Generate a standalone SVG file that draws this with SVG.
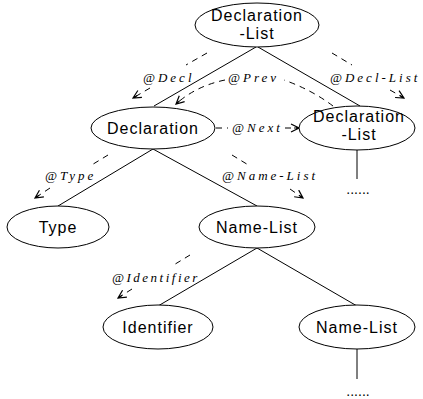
<svg xmlns="http://www.w3.org/2000/svg" width="423" height="399" viewBox="0 0 423 399">
<style>
.node ellipse{fill:#fff;stroke:#000;stroke-width:1}
.node text{font-family:"Liberation Sans",Arial,sans-serif;font-size:16px;letter-spacing:1px;text-anchor:middle;fill:#000}
.tree line{stroke:#000;stroke-width:1}
.ref{fill:none;stroke:#000;stroke-width:1;stroke-dasharray:6,5}
.lbl{font-family:"Liberation Serif","Times New Roman",serif;font-style:italic;font-size:13px;letter-spacing:3px;fill:#000}
.dots{font-family:"Liberation Sans",Arial,sans-serif;font-size:14px;text-anchor:middle}
</style>
<defs>
<marker id="ah" viewBox="0 0 10 10" refX="9" refY="5" markerWidth="10" markerHeight="10" markerUnits="userSpaceOnUse" orient="auto">
<path d="M1,1 L9,5 L1,9 M9,5 L4,5" fill="none" stroke="#000" stroke-width="1.2"/>
</marker>
</defs>
<g id="connectors">
<g class="tree">
<line x1="256" y1="47" x2="154" y2="106"/>
<line x1="258" y1="47" x2="360" y2="106"/>
<line x1="357" y1="150" x2="357" y2="179"/>
<line x1="153" y1="149" x2="58" y2="206"/>
<line x1="153" y1="149" x2="257" y2="206"/>
<line x1="257" y1="248" x2="158" y2="306"/>
<line x1="257" y1="248" x2="357" y2="306"/>
<line x1="357" y1="349" x2="357" y2="379"/>
</g>
<path class="ref" d="M207,53 L186,65"/>
<path class="ref" d="M150,88 L133,98" marker-end="url(#ah)"/>
<path class="ref" d="M333,106 Q312,90 284,80"/>
<path class="ref" d="M225,80 Q196,86 176,104" marker-end="url(#ah)"/>
<path class="ref" d="M332,53 L352,65"/>
<path class="ref" d="M390,90 L404,98" marker-end="url(#ah)"/>
<path class="ref" d="M216,128 L228,128"/>
<path class="ref" d="M285,128 L299,128" marker-end="url(#ah)"/>
<path class="ref" d="M108,155 L90,166"/>
<path class="ref" d="M50,188 L35,198" marker-end="url(#ah)"/>
<path class="ref" d="M232,155 L250,166"/>
<path class="ref" d="M290,189 L303,198" marker-end="url(#ah)"/>
<path class="ref" d="M190,255 L172,266"/>
<path class="ref" d="M132,289 L118,298" marker-end="url(#ah)"/>
<text class="lbl" x="143" y="82">@Decl</text>
<text class="lbl" x="228" y="82">@Prev</text>
<text class="lbl" x="330" y="82">@Decl-List</text>
<text class="lbl" x="232" y="132">@Next</text>
<text class="lbl" x="45" y="180">@Type</text>
<text class="lbl" x="222" y="180">@Name-List</text>
<text class="lbl" x="112" y="282" style="letter-spacing:2.5px">@Identifier</text>
<text class="dots" x="358" y="194">......</text>
<text class="dots" x="358" y="396">......</text>
</g>
<g id="n-decllist-top" class="node">
<ellipse cx="257" cy="25" rx="62" ry="22"/>
<text x="257" y="21">Declaration</text>
<text x="257" y="39">-List</text>
</g>
<g id="n-declaration" class="node">
<ellipse cx="153" cy="128" rx="62" ry="21"/>
<text x="153" y="134">Declaration</text>
</g>
<g id="n-decllist-right" class="node">
<ellipse cx="357" cy="128" rx="58" ry="22"/>
<text x="359" y="122">Declaration</text>
<text x="359" y="140">-List</text>
</g>
<g id="n-type" class="node">
<ellipse cx="58" cy="227" rx="51" ry="21"/>
<text x="58" y="233">Type</text>
</g>
<g id="n-namelist" class="node">
<ellipse cx="257" cy="227" rx="58" ry="21"/>
<text x="257" y="233">Name-List</text>
</g>
<g id="n-identifier" class="node">
<ellipse cx="158" cy="327" rx="55" ry="22"/>
<text x="158" y="333">Identifier</text>
</g>
<g id="n-namelist2" class="node">
<ellipse cx="357" cy="327" rx="58" ry="22"/>
<text x="357" y="333">Name-List</text>
</g>
</svg>
